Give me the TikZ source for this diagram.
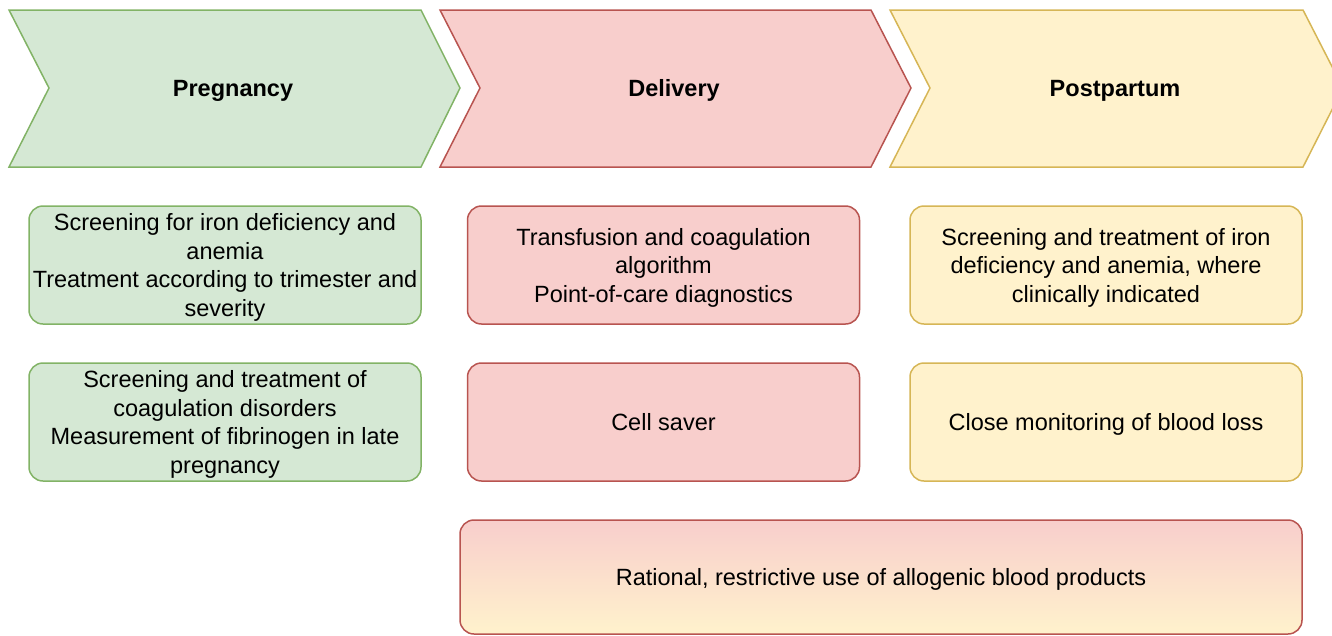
\documentclass[tikz,border=0pt]{standalone}
\usepackage{fontspec}
\setmainfont{Liberation Sans}
\begin{document}
\begin{tikzpicture}[x=1pt,y=-1pt,
  ttl/.style={font=\fontsize{23.5}{28.5}\selectfont\bfseries, inner sep=0pt,
    text height=17pt, text depth=0pt},
  card/.style={rounded corners=14pt, line width=1.5pt, minimum width=392pt,
    minimum height=118pt, inner sep=0pt, align=center, text depth=-0.5pt,
    font=\fontsize{23.5}{28.5}\selectfont},
  greenbox/.style={card, draw=gstroke, fill=gfill},
  redbox/.style={card, draw=rstroke, fill=rfill},
  yellowbox/.style={card, draw=ystroke, fill=yfill},
  arrowshape/.style={line width=1.5pt, line join=miter}]
\definecolor{gfill}{HTML}{D5E8D4}\definecolor{gstroke}{HTML}{82B366}
\definecolor{rfill}{HTML}{F8CECC}\definecolor{rstroke}{HTML}{B85450}
\definecolor{yfill}{HTML}{FFF2CC}\definecolor{ystroke}{HTML}{D6B656}
\useasboundingbox (0,0) rectangle (1332,635);
\clip (0,0) rectangle (1332,635);

% phase chevrons
\draw[arrowshape, draw=gstroke, fill=gfill]
  (9,10) -- (421,10) -- (460,88) -- (421,167) -- (9,167) -- (49,88) -- cycle;
\draw[arrowshape, draw=rstroke, fill=rfill]
  (440,10) -- (871,10) -- (911,88) -- (871,167) -- (440,167) -- (480,88) -- cycle;
\draw[arrowshape, draw=ystroke, fill=yfill]
  (890,10) -- (1303,10) -- (1343,88) -- (1303,167) -- (890,167) -- (930,88) -- cycle;
\node[ttl] (preg) at (233,88) {Pregnancy};
\node[ttl] (deliv) at (674,88) {Delivery};
\node[ttl] (post) at (1115,88) {Postpartum};

% measures per phase
\node[greenbox] (p1) at (225,265) {Screening for iron deficiency and\\anemia\\Treatment according to trimester and\\severity};
\node[greenbox] (p2) at (225,422) {Screening and treatment of\\coagulation disorders\\Measurement of fibrinogen in late\\pregnancy};
\node[redbox] (d1) at (663.5,265) {Transfusion and coagulation\\algorithm\\Point-of-care diagnostics};
\node[redbox] (d2) at (663.5,422) {Cell saver};
\node[yellowbox] (q1) at (1106,265) {Screening and treatment of iron\\deficiency and anemia, where\\clinically indicated};
\node[yellowbox] (q2) at (1106,422) {Close monitoring of blood loss};

% measure spanning delivery and postpartum
\node[card, draw=rstroke, top color=rfill, bottom color=yfill,
  minimum width=842pt, minimum height=114pt] (all) at (881,577) {Rational, restrictive use of allogenic blood products};
\end{tikzpicture}
\end{document}
